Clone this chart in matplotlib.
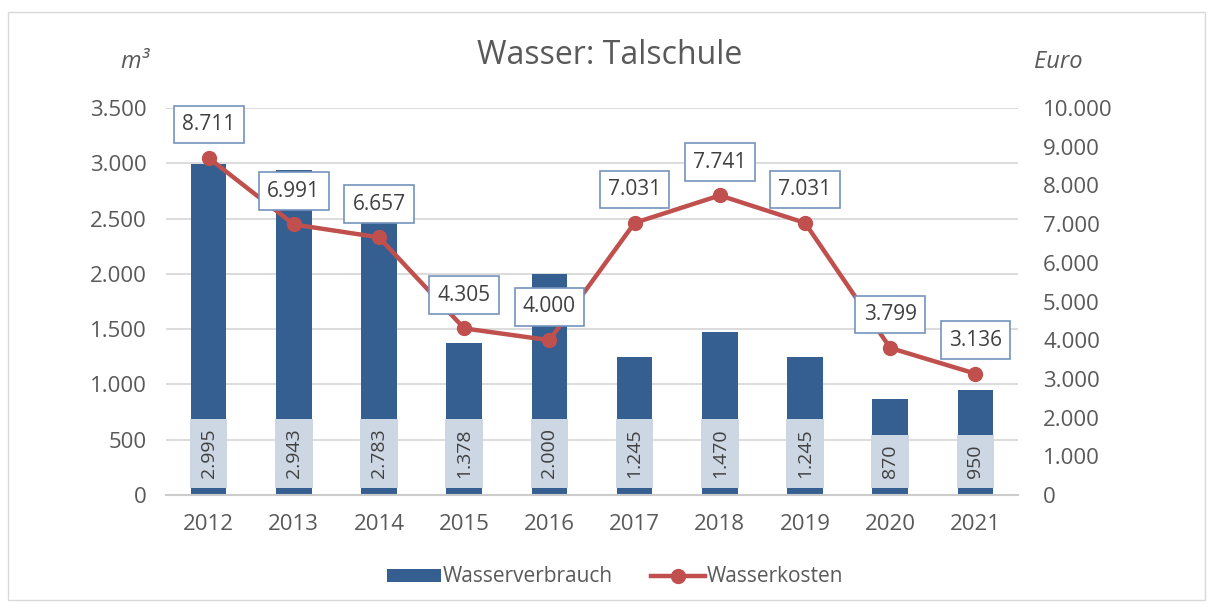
import matplotlib
matplotlib.use("Agg")
import matplotlib.pyplot as plt
from matplotlib.patches import Rectangle
from matplotlib.lines import Line2D
from matplotlib.patches import Patch
from matplotlib.ticker import FuncFormatter, MultipleLocator

years = ["2012", "2013", "2014", "2015", "2016", "2017", "2018", "2019", "2020", "2021"]
verbrauch = [2995, 2943, 2783, 1378, 2000, 1245, 1470, 1245, 870, 950]
kosten = [8711, 6991, 6657, 4305, 4000, 7031, 7741, 7031, 3799, 3136]

title = "Wasser: Talschule"
left_unit = "m³"
right_unit = "Euro"
bar_name = "Wasserverbrauch"
line_name = "Wasserkosten"

BLUE = "#355f91"
RED = "#c0504d"
GRAY = "#595959"
DARK = "#404040"
GRID = "#d9d9d9"
LABEL_FILL = "#cdd7e4"
LABEL_EDGE = "#7393bd"

plt.rcParams["font.family"] = ["Open Sans", "DejaVu Sans"]

def de(v, pos=None):
    return f"{int(round(v)):,}".replace(",", ".")

fig = plt.figure(figsize=(12.14, 6.05), dpi=100)
fig.patches.append(Rectangle((8 / 1214, 5 / 605), 1197 / 1214, 588 / 605,
                             transform=fig.transFigure, fill=False,
                             edgecolor="#d9d9d9", linewidth=1.0))

ax = fig.add_axes([166 / 1214, 110 / 605, 852 / 1214, 387 / 605])
ax2 = ax.twinx()
x = list(range(len(years)))

ax.bar(x, verbrauch, width=0.42, color=BLUE, zorder=2)
ax.set_xlim(-0.5, len(years) - 0.5)
ax.set_ylim(0, 3500)
ax.yaxis.set_major_locator(MultipleLocator(500))
ax.yaxis.set_major_formatter(FuncFormatter(de))
ax.grid(axis="y", color=GRID, linewidth=1.3, zorder=0)
ax.set_axisbelow(True)
ax.set_xticks(x)
ax.set_xticklabels(years)
for s in ["top", "right", "left"]:
    ax.spines[s].set_visible(False)
    ax2.spines[s].set_visible(False)
ax.spines["bottom"].set_color("#cccccc")
ax.spines["bottom"].set_linewidth(1.5)
ax2.spines["bottom"].set_visible(False)
ax.tick_params(axis="x", length=0, labelsize=16, colors=GRAY, pad=14)
ax.tick_params(axis="y", length=0, labelsize=16, colors=GRAY, pad=14)

for xi, v in zip(x, verbrauch):
    ax.annotate(de(v), xy=(xi, 0), xytext=(0, 12), textcoords="offset points",
                rotation=90, ha="center", va="bottom", fontsize=14, color=DARK,
                bbox=dict(boxstyle="square,pad=0.5", fc=LABEL_FILL, ec="none"),
                zorder=5)

ax2.plot(x, kosten, color=RED, linewidth=3.2, marker="o", markersize=10, zorder=4)
ax2.set_ylim(0, 10000)
ax2.yaxis.set_major_locator(MultipleLocator(1000))
ax2.yaxis.set_major_formatter(FuncFormatter(de))
ax2.tick_params(axis="y", length=0, labelsize=16, colors=GRAY, pad=18)
for t in ax2.get_yticklabels():
    t.set_horizontalalignment("left")

for xi, v in zip(x, kosten):
    ax2.annotate(de(v), xy=(xi, v), xytext=(0, 24), textcoords="offset points",
                 ha="center", va="center", fontsize=15, color=DARK,
                 bbox=dict(boxstyle="square,pad=0.4", fc="white", ec=LABEL_EDGE, lw=1.2),
                 zorder=6)

fig.text(610 / 1214, 1 - 55 / 605, title, ha="center", va="center", fontsize=23, color=GRAY)
fig.text(135 / 1214, 1 - 62 / 605, left_unit, ha="center", va="center", fontsize=17,
         color=GRAY, style="italic")
fig.text(1058 / 1214, 1 - 62 / 605, right_unit, ha="center", va="center", fontsize=17,
         color=GRAY, style="italic")

handles = [Patch(facecolor=BLUE, edgecolor="none"),
           Line2D([0], [0], color=RED, linewidth=3.2, marker="o", markersize=10)]
fig.legend(handles, [bar_name, line_name], loc="center", bbox_to_anchor=(615 / 1214, 28 / 605),
           ncol=2, frameon=False, fontsize=15, labelcolor=GRAY, handlelength=2.6,
           handleheight=0.6, handletextpad=0.1, columnspacing=1.8)

fig.savefig("out.png", dpi=100)
